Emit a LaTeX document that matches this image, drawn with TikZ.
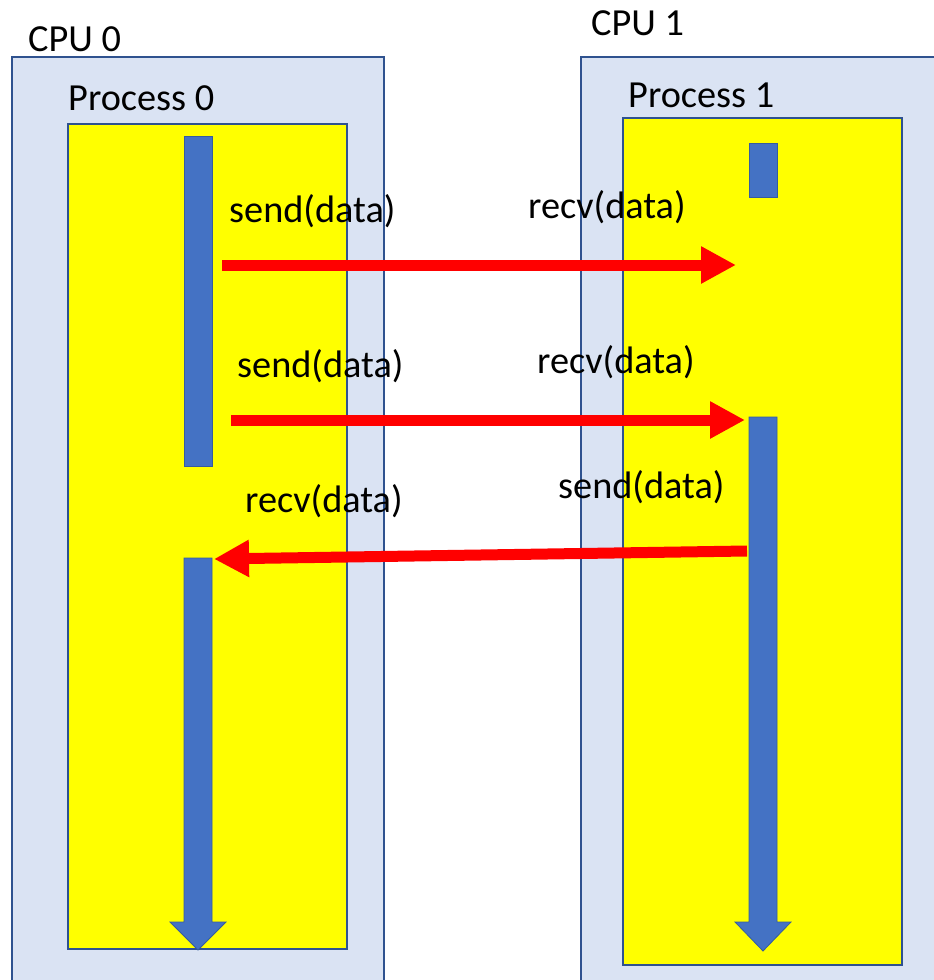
\documentclass[tikz,border=0pt]{standalone}
\usepackage{fontspec}
\setmainfont{Carlito}
\usetikzlibrary{arrows.meta}
\definecolor{cpufill}{HTML}{DAE3F3}
\definecolor{edge}{HTML}{2F528F}
\definecolor{barblue}{HTML}{4472C4}
\definecolor{procyellow}{HTML}{FFFF00}
\definecolor{msgred}{HTML}{FF0000}
\begin{document}
\begin{tikzpicture}[x=1pt,y=-1pt,
 cpubox/.style={fill=cpufill,draw=edge,line width=1.5pt},
 procbox/.style={fill=procyellow,draw=edge,line width=1.5pt},
 bar/.style={fill=barblue,draw=edge!70!barblue,line width=0.8pt},
 lbl/.style={anchor=base west,inner sep=0pt,font=\fontsize{38.3}{46}\selectfont},
 msg/.style={draw=msgred,line width=11pt,-{Triangle[width=35pt,length=35pt]}},
]
\useasboundingbox (0,0) rectangle (934,980);
\clip (0,0) rectangle (934,980);
% CPU boxes
\path[cpubox] (12,57) rectangle (384,1000);
\path[cpubox] (581,57) rectangle (950,1000);
% process boxes
\path[procbox] (68,124) rectangle (347,949);
\path[procbox] (623,118) rectangle (902,965);
% activity bars
\path[bar] (184,136) rectangle (212,466);
\path[bar] (749,143) rectangle (777,197);
\path[bar] (184,558) -- (212,558) -- (212,922) -- (226,922) -- (198,950) -- (170,922) -- (184,922) -- cycle;
\path[bar] (749,417) -- (777,417) -- (777,922) -- (791,922) -- (763,951) -- (735,922) -- (749,922) -- cycle;
% labels
\node[lbl] (cpu0) at (28,51) {CPU 0};
\node[lbl] (cpu1) at (591,35) {CPU 1};
\node[lbl] (p0) at (68,110) {Process 0};
\node[lbl] (p1) at (628,107) {Process 1};
\node[lbl] (s1) at (229,222) {send(data)};
\node[lbl] (r1) at (528,218) {recv(data)};
\node[lbl] (s2) at (237,377) {send(data)};
\node[lbl] (r2) at (537,373) {recv(data)};
\node[lbl] (r3) at (245,512) {recv(data)};
\node[lbl] (s3) at (558,498) {send(data)};
% message arrows
\coordinate (a1) at (222,265);
\coordinate (b1) at (736,265);
\coordinate (a2) at (231,420);
\coordinate (b2) at (745,420);
\coordinate (a3) at (747,551);
\coordinate (b3) at (214,559);
\draw[msg] (a1) -- (b1);
\draw[msg] (a2) -- (b2);
\draw[msg] (a3) -- (b3);
\end{tikzpicture}
\end{document}
